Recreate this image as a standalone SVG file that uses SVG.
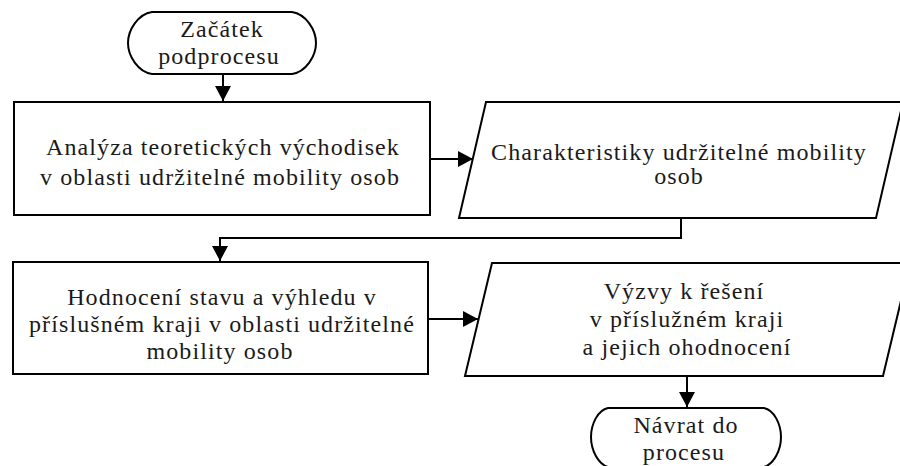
<svg xmlns="http://www.w3.org/2000/svg" width="900" height="466" viewBox="0 0 900 466">
  <style>
    .shape { fill: #ffffff; stroke: #000000; stroke-width: 2; stroke-linejoin: miter; }
    .edge { fill: none; stroke: #000000; stroke-width: 2; }
    .label { font-family: "Liberation Serif", "Times New Roman", serif; font-size: 24px; fill: #1a1a1a; text-anchor: middle; letter-spacing: 1.1px; }
  </style>
  <defs>
    <marker id="arrow" markerUnits="userSpaceOnUse" markerWidth="16" markerHeight="18" refX="15" refY="8" orient="auto">
      <path d="M0,0 L15,8 L0,16 Z" fill="#000000"/>
    </marker>
  </defs>
  <rect width="900" height="466" fill="#ffffff"/>

  <!-- connectors -->
  <g id="connectors">
    <path class="edge" d="M223,74 V101" marker-end="url(#arrow)"/>
    <path class="edge" d="M430,159 H473" marker-end="url(#arrow)"/>
    <path class="edge" d="M681,218 V238 H220 V261" marker-end="url(#arrow)"/>
    <path class="edge" d="M428,319 H478" marker-end="url(#arrow)"/>
    <path class="edge" d="M687,376 V407" marker-end="url(#arrow)"/>
  </g>

  <!-- start terminal -->
  <g id="start">
    <path class="shape" d="M152,12 H292 C306,14 316,30 316,43 C316,56 306,72 292,74 H152 C138,72 128,56 128,43 C128,30 138,14 152,12 Z"/>
    <text class="label" x="222" y="37">Začátek</text>
    <text class="label" x="219" y="64">podprocesu</text>
  </g>

  <!-- analysis process -->
  <g id="analysis">
    <rect class="shape" x="14" y="102" width="416" height="113"/>
    <text class="label" x="223" y="155">Analýza teoretických východisek</text>
    <text class="label" x="220" y="185">v oblasti udržitelné mobility osob</text>
  </g>

  <!-- characteristics data -->
  <g id="characteristics">
    <path class="shape" d="M486,102 H903 L876,218 H459 Z"/>
    <text class="label" x="679" y="160">Charakteristiky udržitelné mobility</text>
    <text class="label" x="679" y="184">osob</text>
  </g>

  <!-- evaluation process -->
  <g id="evaluation">
    <rect class="shape" x="13" y="262" width="415" height="112"/>
    <text class="label" x="222" y="305">Hodnocení stavu a výhledu v</text>
    <text class="label" x="222" y="332">příslušném kraji v oblasti udržitelné</text>
    <text class="label" x="220" y="359">mobility osob</text>
  </g>

  <!-- challenges data -->
  <g id="challenges">
    <path class="shape" d="M492,263 H910 L883,376 H465 Z"/>
    <text class="label" x="684" y="299">Výzvy k řešení</text>
    <text class="label" x="687" y="327">v příslužném kraji</text>
    <text class="label" x="687" y="355">a jejich ohodnocení</text>
  </g>

  <!-- end terminal -->
  <g id="end">
    <path class="shape" d="M608,408 H764 C774,410 781,424 781,437 C781,450 774,464 764,467 H608 C598,464 591,450 591,437 C591,424 598,410 608,408 Z"/>
    <text class="label" x="686" y="433">Návrat do</text>
    <text class="label" x="684" y="460">procesu</text>
  </g>
</svg>
